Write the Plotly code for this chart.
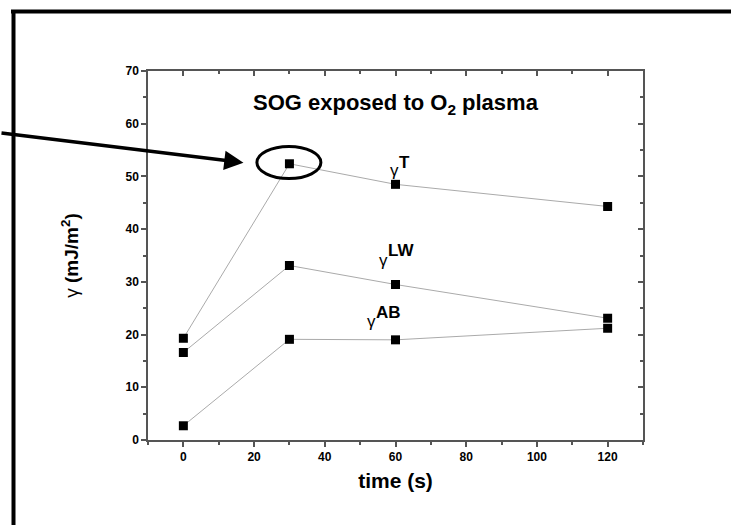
import plotly.graph_objects as go

time_s = [0, 30, 60, 120]
gamma_T = [19.3, 52.4, 48.5, 44.3]
gamma_LW = [16.6, 33.1, 29.5, 23.1]
gamma_AB = [2.7, 19.1, 19.0, 21.2]
series_sup = ["T", "LW", "AB"]
x_ticks = [0, 20, 40, 60, 80, 100, 120]
y_ticks = [0, 10, 20, 30, 40, 50, 60, 70]

FONT = "Liberation Sans, Arial, sans-serif"
AX = "#555555"

fig = go.Figure()
for ys in (gamma_T, gamma_LW, gamma_AB):
    fig.add_trace(go.Scatter(
        x=time_s, y=ys, mode="lines+markers",
        line=dict(color="#aaaaaa", width=1),
        marker=dict(symbol="square", size=9, color="black"),
        showlegend=False, hoverinfo="skip"))
# invisible trace to carry the mirrored axes (top / right, ticks inward)
fig.add_trace(go.Scatter(x=time_s, y=gamma_T, xaxis="x2", yaxis="y2",
                         mode="markers", marker=dict(opacity=0), showlegend=False,
                         hoverinfo="skip"))

tickfont = dict(size=12, family=FONT, color="black")
fig.update_layout(
    width=731, height=525,
    margin=dict(l=148, r=88, t=71, b=85),
    paper_bgcolor="white", plot_bgcolor="white",
    font=dict(family=FONT, color="black"),
    xaxis=dict(range=[-10, 130], tickvals=x_ticks,
               ticktext=[f"<b>{v}</b>" for v in x_ticks], ticks="outside", ticklen=5,
               tickwidth=1.5, tickcolor=AX, showline=True, linecolor=AX, linewidth=1.5,
               showgrid=False, zeroline=False, tickfont=tickfont,
               minor=dict(dtick=10, tick0=0, ticks="outside", ticklen=3, tickcolor=AX,
                          showgrid=False),
               title=dict(text="<b>time (s)</b>", font=dict(size=21, family=FONT), standoff=10)),
    yaxis=dict(range=[0, 70], tickvals=y_ticks,
               ticktext=[f"<b>{v}</b>" for v in y_ticks], ticks="outside", ticklen=5,
               tickwidth=1.5, tickcolor=AX, showline=True, linecolor=AX, linewidth=1.5,
               showgrid=False, zeroline=False, tickfont=tickfont,
               minor=dict(dtick=5, tick0=0, ticks="outside", ticklen=3, tickcolor=AX,
                          showgrid=False),
               title=dict(text="γ <b>(mJ/m<sup>2</sup>)</b>", font=dict(size=19, family=FONT),
                          standoff=42)),
    xaxis2=dict(range=[-10, 130], overlaying="x", side="top", tickvals=x_ticks,
                ticks="inside", ticklen=5, tickwidth=1.5, tickcolor=AX, showticklabels=False,
                showline=True, linecolor=AX, linewidth=1.5, showgrid=False, zeroline=False,
                minor=dict(dtick=10, tick0=0, ticks="inside", ticklen=3, tickcolor=AX)),
    yaxis2=dict(range=[0, 70], overlaying="y", side="right", tickvals=y_ticks,
                ticks="inside", ticklen=5, tickwidth=1.5, tickcolor=AX, showticklabels=False,
                showline=True, linecolor=AX, linewidth=1.5, showgrid=False, zeroline=False,
                minor=dict(dtick=5, tick0=0, ticks="inside", ticklen=3, tickcolor=AX)),
)

# title text inside the plot
fig.add_annotation(x=60.2, y=63.8, xref="x", yref="y", showarrow=False,
                   text="<b>SOG exposed to O<sub>2</sub> plasma</b>",
                   font=dict(size=22, family=FONT))
# series labels: gamma + bold superscript
label_pos = [(61.2, 51.1, 8), (58.3, 34.0, 10), (54.7, 22.4, 9)]
for (lx, ly, shift), sup in zip(label_pos, series_sup):
    fig.add_annotation(x=lx, y=ly, xref="x", yref="y", showarrow=False, text="γ",
                       xanchor="right", borderpad=0, font=dict(size=17, family=FONT))
    fig.add_annotation(x=lx, y=ly, xref="x", yref="y", showarrow=False,
                       text=f"<b>{sup}</b>", xanchor="left", borderpad=0,
                       xshift=-2, yshift=shift, font=dict(size=17, family=FONT))

# arrow pointing at the 30 s gamma_T point
fig.add_annotation(x=17.0, y=52.6, xref="x", yref="y", text="", showarrow=True,
                   axref="pixel", ayref="pixel", ax=-245, ay=-30,
                   arrowhead=2, arrowsize=1.1, arrowwidth=3.5, arrowcolor="black")

# ellipse around the highlighted point
fig.add_shape(type="circle", xref="x", yref="y", x0=20.8, x1=38.9, y0=49.6, y1=55.7,
              line=dict(color="black", width=3))

# outer frame (top and left edges)
px = lambda p: (p - 148) / 495
py = lambda p: (440 - p) / 369
fig.add_shape(type="line", xref="paper", yref="paper", x0=px(11), x1=px(740),
              y0=py(11.5), y1=py(11.5), line=dict(color="black", width=4))
fig.add_shape(type="line", xref="paper", yref="paper", x0=px(13.5), x1=px(13.5),
              y0=py(10), y1=py(530), line=dict(color="black", width=4))

fig.write_html("out.html", config={"displayModeBar": False},
               post_script="document.body.style.margin='0';")
